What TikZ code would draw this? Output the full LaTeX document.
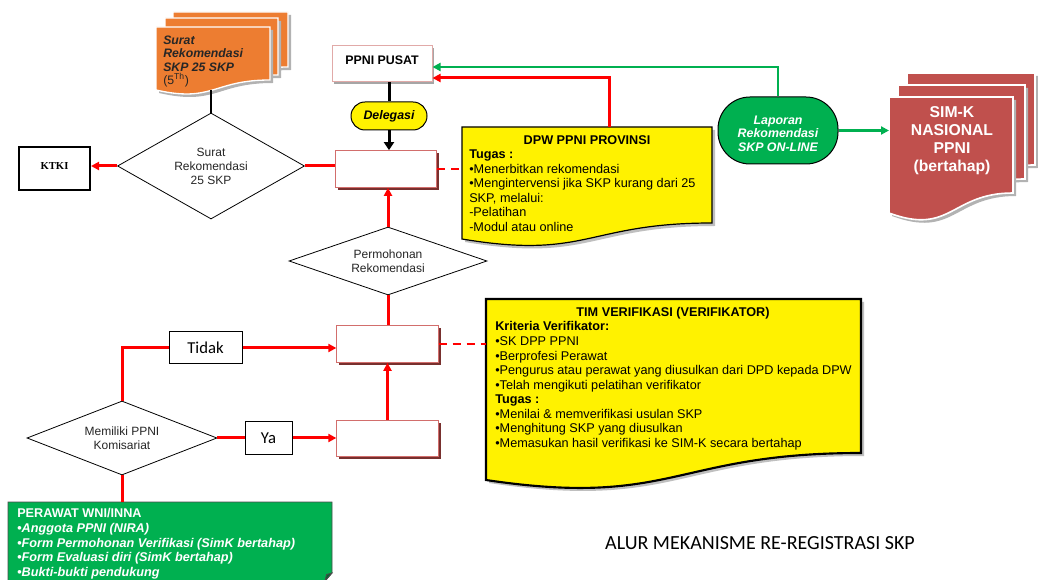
\documentclass[tikz,border=0pt]{standalone}
\usepackage{fontspec}
\setmainfont{Liberation Sans}
\newfontfamily\calfont{Carlito}
\newfontfamily\serfont{Liberation Serif}
\usetikzlibrary{shapes.geometric,arrows.meta,shadows}
\definecolor{grn}{RGB}{0,176,80}
\definecolor{orng}{RGB}{237,125,49}
\definecolor{simred}{RGB}{192,80,77}
\definecolor{boxred}{RGB}{210,110,108}
\definecolor{shred}{RGB}{120,48,46}
\definecolor{pinkb}{RGB}{225,170,168}
\newcommand\mydoc[8]{%
  \path[shift={(3,3)},#8] (#2,#3) -- (#4,#3) -- (#4,#5) .. controls ({(#2+#4)/2},#5) and ({(#2+#4)/2},#7) .. (#2,#6) -- cycle;
  \path[#1] (#2,#3) -- (#4,#3) -- (#4,#5) .. controls ({(#2+#4)/2},#5) and ({(#2+#4)/2},#7) .. (#2,#6) -- cycle;
}
\tikzset{
  rl/.style={draw=red, line width=2.25pt},
  ra/.style={rl, -{Triangle[length=6pt,width=6pt]}},
  rd/.style={draw=red, line width=2pt, dash pattern=on 6pt off 4.5pt},
  ga/.style={draw=grn, line width=2pt, -{Triangle[length=6pt,width=6pt]}},
  bl/.style={draw=black, line width=2.25pt},
  ba/.style={bl, -{Triangle[length=6pt,width=7.5pt]}},
  dia/.style={diamond, draw=black, line width=0.6pt, fill=white, inner sep=0pt, align=center, text=black!85, font=\fontsize{9}{10.5}\selectfont},
  rbox/.style={rectangle, draw=boxred, line width=0.75pt, fill=white, minimum width=76pt, minimum height=27.5pt, inner sep=0pt, drop shadow={shadow xshift=1.8pt, shadow yshift=-1.8pt, fill=shred, opacity=1}},
  smallbox/.style={draw=black, line width=0.75pt, fill=white, minimum height=24pt, inner sep=0pt, font=\calfont\fontsize{12.5}{14}\selectfont},
  bodytxt/.style={anchor=north west, inner sep=0pt, align=left, font=\fontsize{9.5}{10.9}\selectfont},
}
\begin{document}
\begin{tikzpicture}[x=0.75pt,y=-0.75pt]
\useasboundingbox (0,0) rectangle (1038,580);
\fill[white] (0,0) rectangle (1038,580);

% orange document stack
\mydoc{fill=orng, draw=white, line width=1pt}{173}{12}{288}{67}{79}{95}{fill=black!30}
\mydoc{fill=orng, draw=white, line width=1pt}{165}{18}{278}{75}{87}{103}{fill=black!30}
\mydoc{fill=orng, draw=white, line width=1pt}{156}{27}{270}{80}{90}{103}{fill=black!30}
\node[anchor=north west, inner sep=0pt, align=left, font=\bfseries\itshape\fontsize{9.2}{10.1}\selectfont, text=black!85] (orgtxt) at (163,35.5) {Surat\\Rekomendasi\\SKP 25 SKP\\{\normalfont(5\textsuperscript{Th})}};
\coordinate (orgb) at (211,90);

% SIM-K stack
\mydoc{fill=simred, draw=white, line width=1.2pt}{907}{73}{1035}{165}{178}{194}{fill=black!30}
\mydoc{fill=simred, draw=white, line width=1.2pt}{898}{85}{1025}{179}{195}{212}{fill=black!30}
\mydoc{fill=simred, draw=white, line width=1.2pt}{889}{97}{1013}{193}{213}{236}{fill=black!30}
\node[align=center, text=white, font=\bfseries\fontsize{11.8}{13.5}\selectfont] (simtxt) at (952,140.5) {SIM-K\\NASIONAL\\PPNI\\(bertahap)};
\coordinate (simL) at (889,129);

% DPW yellow note
\mydoc{fill=yellow, draw=black, line width=0.9pt}{462}{127}{712}{223}{239}{260}{fill=black!25}
\node[font=\bfseries\fontsize{9.5}{11}\selectfont] (dpwtitle) at (587,140) {DPW PPNI PROVINSI};
\node[bodytxt] (dpwtxt) at (469,149.5) {\textbf{Tugas :}\\•Menerbitkan rekomendasi\\•Mengintervensi jika SKP kurang dari 25\\SKP, melalui:\\-Pelatihan\\-Modul atau online};
\coordinate (dpwL) at (462,169);
\coordinate (dpwT) at (609,127);

% TIM yellow note
\mydoc{fill=yellow, draw=black, line width=1.6pt}{486}{299}{861}{453}{480}{508}{fill=black!25}
\node[font=\bfseries\fontsize{9.5}{11}\selectfont] (timtitle) at (673,313) {TIM VERIFIKASI (VERIFIKATOR)};
\node[bodytxt] (timtxt) at (495,321.5) {\textbf{Kriteria Verifikator:}\\•SK DPP PPNI\\•Berprofesi Perawat\\•Pengurus atau perawat yang diusulkan dari DPD kepada DPW\\•Telah mengikuti pelatihan verifikator\\\textbf{Tugas :}\\•Menilai \& memverifikasi usulan SKP\\•Menghitung SKP yang diusulkan\\•Memasukan hasil verifikasi ke SIM-K secara bertahap};
\coordinate (timL) at (486,344);

% green note
\filldraw[fill=grn, draw=black!70, line width=0.6pt] (8,502) -- (332,502) -- (332,573) -- (325,581) -- (8,581) -- cycle;
\filldraw[fill=grn!60!black, draw=black!70, line width=0.6pt] (332,573) -- (325,581) -- (326.5,574.5) -- cycle;
\node[bodytxt, text=white, font=\bfseries\fontsize{9.5}{10.9}\selectfont] (grntxt) at (17,508.5) {PERAWAT WNI/INNA\\•\textit{Anggota PPNI (NIRA)}\\•\textit{Form Permohonan Verifikasi (SimK bertahap)}\\•\textit{Form Evaluasi diri (SimK bertahap)}\\•\textit{Bukti-bukti pendukung}};
\coordinate (grnT) at (122,502);

% nodes
\node[rbox, draw=pinkb, minimum width=75pt, minimum height=27pt, font=\bfseries\fontsize{9.3}{11}\selectfont, drop shadow={shadow xshift=1.8pt, shadow yshift=-1.8pt, fill=black!35, opacity=1}] (ppni) at (382,64) {\raisebox{6pt}{PPNI PUSAT}};
\node[draw=black, line width=0.75pt, fill=yellow, rounded corners=10.5pt, minimum width=57pt, minimum height=21pt, inner sep=0pt, font=\bfseries\itshape\fontsize{9.3}{11}\selectfont] (deleg) at (389,116) {Delegasi};
\node[rbox] (dpwr) at (386,169) {};
\node[rbox] (verif) at (387.5,344) {};
\node[rbox] (botr) at (387.5,438.5) {};
\node[dia, minimum width=140.25pt, minimum height=79.5pt, aspect=1.76] (surat) at (211,166) {Surat\\Rekomendasi\\25 SKP};
\node[dia, minimum width=148.5pt, minimum height=51pt, aspect=2.9] (perm) at (388,261) {Permohonan\\Rekomendasi};
\node[dia, minimum width=142.5pt, minimum height=55.5pt, aspect=2.57] (mem) at (122,438) {Memiliki PPNI\\Komisariat};
\node[draw=black, line width=1.5pt, fill=white, minimum width=53.25pt, minimum height=32.25pt, inner sep=0pt, font=\serfont\bfseries\fontsize{8}{9}\selectfont] (ktki) at (54.5,168.5) {\raisebox{4pt}{KTKI}};
\node[smallbox, minimum width=54.75pt] (tidak) at (205.5,348) {Tidak};
\node[smallbox, minimum width=35.25pt] (ya) at (268.5,438) {Ya};
\node[draw=black, line width=0.75pt, fill=grn, rounded corners=24pt, minimum width=90pt, minimum height=50.25pt, inner sep=0pt] (lap) at (778,130.5) {};
\node[align=center, text=white, font=\bfseries\itshape\fontsize{9.3}{10.1}\selectfont] (laptxt) at (778,133.5) {Laporan\\Rekomendasi\\SKP ON-LINE};
\node[font=\calfont\fontsize{15}{18}\selectfont] (title) at (760,543) {ALUR MEKANISME RE-REGISTRASI SKP};

% connectors
\draw[draw=black, line width=1.5pt] (orgb) -- (surat.north);
\draw[bl] (deleg.north |- ppni.south) -- (deleg.north);
\draw[ba] (deleg.south) -- (deleg.south |- dpwr.north);
\draw[ra] (surat.west) -- (surat.west -| ktki.east);
\draw[rl] (surat.east) -- (surat.east -| dpwr.west);
\draw[rd] (dpwr.east) -- (dpwL);
\draw[ra] (dpwT) |- ([yshift=-10.5pt]ppni.east);
\draw[ga] (lap.north) |- ([yshift=-2.25pt]ppni.east);
\draw[ga] (lap.east) -- (lap.east -| simL);
\draw[ra] (perm.north) -- (perm.north |- dpwr.south);
\draw[rl] (perm.south) -- (perm.south |- verif.north);
\draw[rd] (verif.east) -- (timL);
\draw[ra] (botr.north) -- (botr.north |- verif.south);
\draw[rl] (mem.north) |- (tidak.west);
\draw[ra] (tidak.east) -- (tidak.east -| verif.west);
\draw[rl] (mem.east) -- (ya.west);
\draw[ra] (ya.east) -- (ya.east -| botr.west);
\draw[rl] (mem.south) -- (grnT);
\end{tikzpicture}
\end{document}
